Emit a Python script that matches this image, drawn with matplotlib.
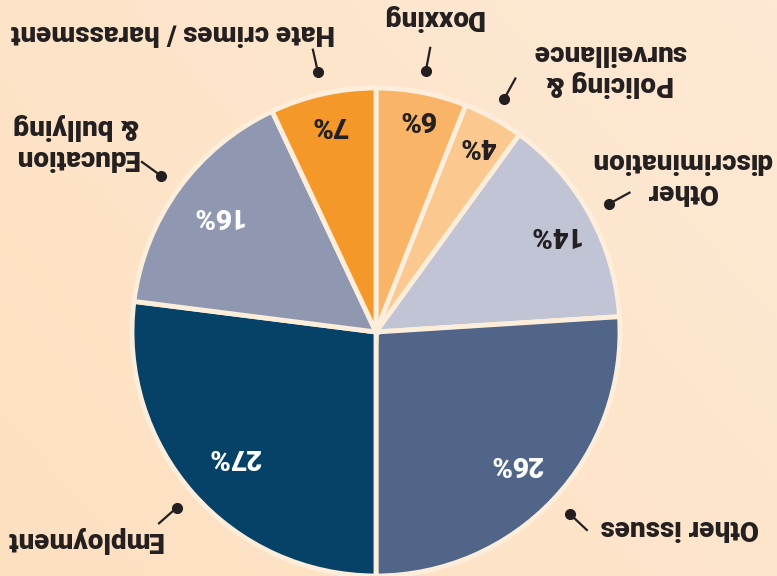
import numpy as np
import matplotlib.pyplot as plt

plt.rcParams["font.family"] = ["Roboto", "DejaVu Sans"]

# wedges listed clockwise from 12 o'clock, as they appear in the picture
labels = ["Doxxing", "Policing &\nsurveillance", "Other\ndiscrimination",
          "Other issues", "Employment", "Education\n& bullying",
          "Hate crimes / harassment"]
values = [6, 4, 14, 26, 27, 16, 7]
colors = ["#f9b468", "#fbc98f", "#c0c4d4", "#506587", "#064168", "#8f98b0", "#f5982a"]
pct_colors = ["#231f20", "#231f20", "#231f20", "white", "white", "white", "#231f20"]

# layout (pixels, y measured upward)
label_pos = [(433, 558), (610, 508), (682, 400), (680, 48), (84, 36), (76, 434), (173, 543)]
pct_r = [0.89, 0.87, 0.83, 0.79, 0.77, 0.81, 0.87]
cx, cy, R = 376, 244, 244

fig = plt.figure(figsize=(7.77, 5.76), dpi=100)
ax = fig.add_axes([0, 0, 1, 1])

# peach background, a little lighter toward the right
gx = np.linspace(0, 1, 200)
gy = np.linspace(0, 1, 150)
X, Y = np.meshgrid(gx, gy)
t = np.clip(0.6 * X + 0.4 * Y, 0, 1)
c0 = np.array([253, 224, 192]) / 255
c1 = np.array([253, 233, 212]) / 255
bg = c0 + (c1 - c0) * t[..., None]
ax.imshow(bg, extent=(0, 777, 0, 576), origin="lower", aspect="auto", zorder=0)

wedges, _ = ax.pie(values, colors=colors, startangle=90, counterclock=False,
                   center=(cx, cy), radius=R,
                   wedgeprops=dict(edgecolor="#fdeedc", linewidth=3.5))
for w in wedges:
    w.set_zorder(2)

total = sum(values)
cum = np.cumsum(values)
txt = "#231f20"
for i, v in enumerate(values):
    th = np.deg2rad(360 * (cum[i] - v / 2) / total)
    s, c = np.sin(th), np.cos(th)
    ax.text(cx + pct_r[i] * R * s, cy + pct_r[i] * R * c, f"{v}%",
            rotation=180, ha="center", va="center", fontsize=20,
            fontweight="black", color=pct_colors[i], zorder=3)
    # leader: dot near the rim with a short outward tick
    ax.plot([cx + 1.09 * R * s, cx + 1.19 * R * s], [cy + 1.09 * R * c, cy + 1.19 * R * c],
            color=txt, lw=1.6, zorder=3, solid_capstyle="butt")
    ax.plot(cx + 1.09 * R * s, cy + 1.09 * R * c, "o", color=txt, ms=7, zorder=3)
    ax.text(label_pos[i][0], label_pos[i][1], labels[i], rotation=180,
            ha="center", va="center", multialignment="center", linespacing=1.2,
            fontsize=20, fontweight="black", color=txt, zorder=3)

ax.set_xlim(0, 777)
ax.set_ylim(0, 576)
ax.set_aspect("auto")
ax.axis("off")

fig.savefig("out.png", dpi=100)
